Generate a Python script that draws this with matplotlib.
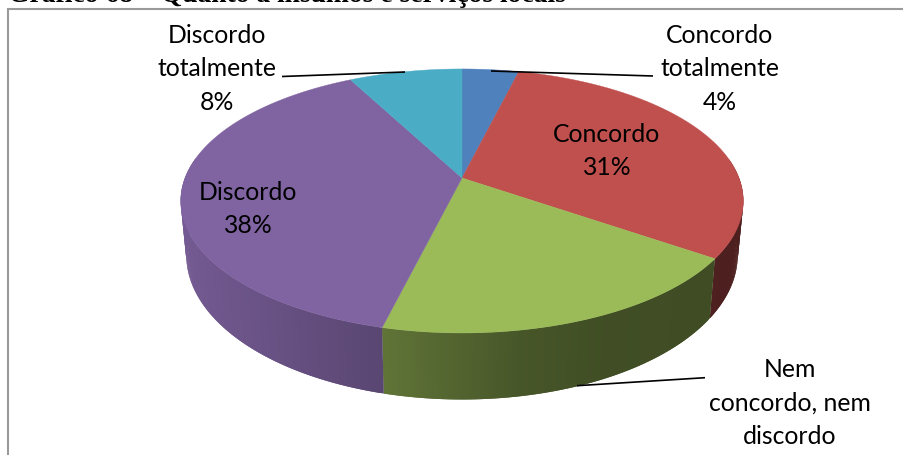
import numpy as np
import matplotlib
matplotlib.use("Agg")
import matplotlib.pyplot as plt
from matplotlib.patches import Polygon

categories = ["Concordo\ntotalmente", "Concordo", "Nem\nconcordo, nem\ndiscordo", "Discordo", "Discordo\ntotalmente"]
values = [3.85, 30.77, 19.23, 38.46, 7.69]
top_colors = ["#4F81BD", "#C0504D", "#9BBB59", "#8064A2", "#4BACC6"]
title = "Gráfico 68 – Quanto a insumos e serviços locais"

W, H = 904, 455
fig = plt.figure(figsize=(W / 100, H / 100), dpi=100)
ax = fig.add_axes([0, 0, 1, 1])
ax.set_xlim(0, W)
ax.set_ylim(H, 0)
ax.axis("off")

K = 0.174
CX = 462


def project(theta, rx, ry, cy):
    u, v = np.sin(theta), -np.cos(theta)
    w = 1 - K * v
    return CX + rx * u / w, cy + ry * v / w


TOP = (277, 128, 178)
BOT = (271.5, 140, 230)


def shade(x):
    return np.interp(x, [187, 383.5, 384.5, 520, 600, 745], [0.90, 0.70, 0.62, 0.46, 0.42, 0.40])


cum = np.concatenate([[0], np.cumsum(values)]) / sum(values) * 2 * np.pi

# side wall, drawn in short opaque strips that overlap the next one
for i, col in enumerate(top_colors):
    rgb = np.array(matplotlib.colors.to_rgb(col))
    n = max(int((cum[i + 1] - cum[i]) / 0.012), 2)
    th = np.linspace(cum[i], cum[i + 1], n + 1)
    for j in range(n):
        a, b = th[j], th[j + 1]
        if np.cos((a + b) / 2) > 0.15:
            continue
        c_end = th[min(j + 2, n)]
        x1, y1 = project(a, *TOP)
        x2, y2 = project(c_end, *TOP)
        x3, y3 = project(c_end, *BOT)
        x4, y4 = project(a, *BOT)
        mx = (project(a, *TOP)[0] + project(b, *TOP)[0] + project(a, *BOT)[0] + project(b, *BOT)[0]) / 4
        c = rgb * shade(mx)
        ax.add_patch(Polygon([(x1, y1), (x2, y2), (x3, y3), (x4, y4)], closed=True,
                             facecolor=c, edgecolor="none", lw=0, zorder=2))

# top face
for i, col in enumerate(top_colors):
    th = np.linspace(cum[i], cum[i + 1], 200)
    xs, ys = project(th, *TOP)
    pts = [(CX, TOP[2])] + list(zip(xs, ys))
    ax.add_patch(Polygon(pts, closed=True, facecolor=col, edgecolor=col, lw=0.3, zorder=3))

# frame
ax.plot([8.5, 8.5, W], [H, 9, 9], color="#9a9a9a", lw=1.5, zorder=1, solid_joinstyle="miter")

# leader lines
leaders = [((282, 76.5), (405, 72)), ((491, 71), (653, 76)), ((577, 385.7), (705, 377.7))]
for (p, q) in leaders:
    ax.plot([p[0], q[0]], [p[1], q[1]], color="black", lw=1.2, zorder=4, solid_capstyle="butt")

# data labels
pct = [f"{round(v)}%" for v in values]
label_pos = [(720, 69), (607, 151), (790, 403), (248, 209), (217, 69)]
for i, (name, p, pos) in enumerate(zip(categories, pct, label_pos)):
    txt = name if i == 2 else f"{name}\n{p}"
    ax.text(pos[0], pos[1], txt, ha="center", va="center", family="Lato", fontsize=17.8,
            linespacing=1.54, color="black", zorder=5)

ax.text(8, 2, title, ha="left", va="baseline", family="Liberation Serif", weight="bold",
        fontsize=19.9, color="black", clip_on=False)

fig.savefig("out.png", dpi=100)
